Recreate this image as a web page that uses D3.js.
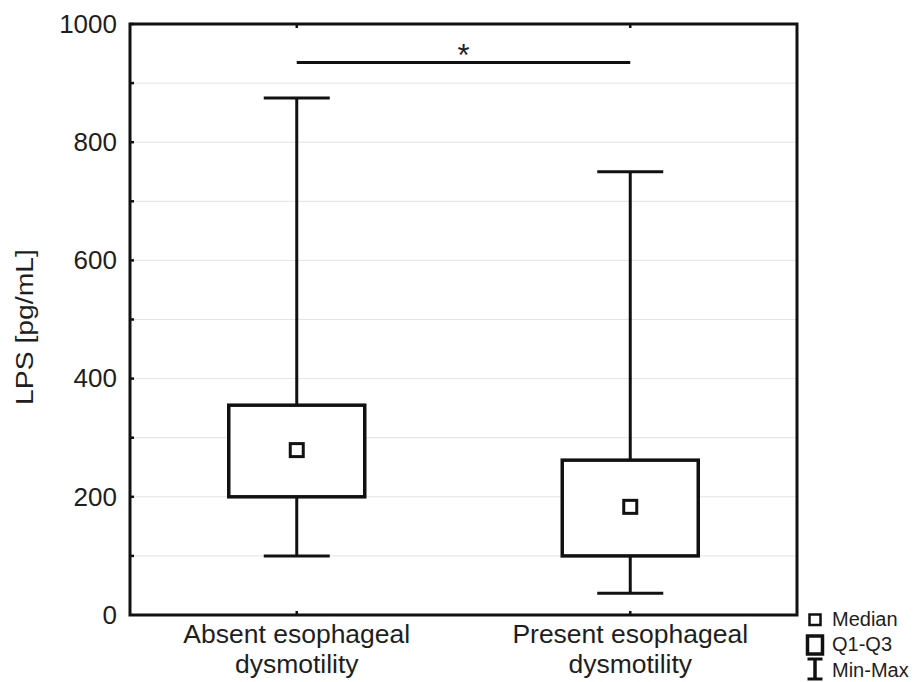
<!DOCTYPE html>
<html>
<head>
<meta charset="utf-8">
<script src="https://cdn.jsdelivr.net/npm/d3@7"></script>
<style>
  html, body { margin: 0; padding: 0; background: #fff; }
  svg text { font-family: Arial, "Liberation Sans", sans-serif; fill: #1e1e1e; }
</style>
</head>
<body>
<svg id="chart" width="918" height="682"></svg>
<script>
// Groups and their summary statistics (LPS, pg/mL)
const categories = ["Absent esophageal|dysmotility", "Present esophageal|dysmotility"];
const minValues = [100, 37];
const q1Values = [200, 100];
const medianValues = [279, 183];
const q3Values = [355, 262];
const maxValues = [875, 750];
const yTicks = [0, 200, 400, 600, 800, 1000];
const gridValues = [100, 200, 300, 400, 500, 600, 700, 800, 900];
const significanceLevel = 935;
const legendLabels = ["Median", "Q1-Q3", "Min-Max"];

const svg = d3.select("#chart");
const margin = { left: 130, right: 121, top: 24, bottom: 67 };
const W = 918, H = 682;
const innerW = W - margin.left - margin.right;
const innerH = H - margin.top - margin.bottom;
const FONT = "Arial, 'Liberation Sans', sans-serif";

const g = svg.append("g").attr("transform", `translate(${margin.left},${margin.top})`);

const y = d3.scaleLinear().domain([0, 1000]).range([innerH, 0]);
const x = d3.scaleBand().domain(categories).range([0, innerW]).paddingInner(0).paddingOuter(0);
const cx = d => x(d) + x.bandwidth() / 2;

// light horizontal grid
g.selectAll(".grid").data(gridValues).join("line")
  .attr("x1", 0).attr("x2", innerW)
  .attr("y1", d => y(d)).attr("y2", d => y(d))
  .attr("stroke", "#e3e3e3").attr("stroke-width", 1);

const boxHalf = 68, capHalf = 33, medHalf = 6.5;
const rows = categories.map((c, i) => ({
  c, min: minValues[i], q1: q1Values[i], med: medianValues[i], q3: q3Values[i], max: maxValues[i]
}));

const box = g.selectAll(".box").data(rows).join("g");
// whiskers
box.append("line").attr("x1", d => cx(d.c)).attr("x2", d => cx(d.c))
  .attr("y1", d => y(d.max)).attr("y2", d => y(d.q3))
  .attr("stroke", "#111").attr("stroke-width", 3);
box.append("line").attr("x1", d => cx(d.c)).attr("x2", d => cx(d.c))
  .attr("y1", d => y(d.q1)).attr("y2", d => y(d.min))
  .attr("stroke", "#111").attr("stroke-width", 3);
// caps
box.append("line").attr("x1", d => cx(d.c) - capHalf).attr("x2", d => cx(d.c) + capHalf)
  .attr("y1", d => y(d.max)).attr("y2", d => y(d.max))
  .attr("stroke", "#111").attr("stroke-width", 3);
box.append("line").attr("x1", d => cx(d.c) - capHalf).attr("x2", d => cx(d.c) + capHalf)
  .attr("y1", d => y(d.min)).attr("y2", d => y(d.min))
  .attr("stroke", "#111").attr("stroke-width", 3);
// Q1-Q3 box
box.append("rect")
  .attr("x", d => cx(d.c) - boxHalf).attr("width", boxHalf * 2)
  .attr("y", d => y(d.q3)).attr("height", d => y(d.q1) - y(d.q3))
  .attr("fill", "#fff").attr("stroke", "#111").attr("stroke-width", 3.5);
// median marker
box.append("rect")
  .attr("x", d => cx(d.c) - medHalf).attr("width", medHalf * 2)
  .attr("y", d => y(d.med) - medHalf).attr("height", medHalf * 2)
  .attr("fill", "#fff").attr("stroke", "#111").attr("stroke-width", 3);

// significance bar
const sigY = y(significanceLevel);
g.append("line").attr("x1", cx(categories[0])).attr("x2", cx(categories[1]))
  .attr("y1", sigY).attr("y2", sigY).attr("stroke", "#111").attr("stroke-width", 3);
g.append("text").attr("x", (cx(categories[0]) + cx(categories[1])) / 2).attr("y", sigY + 4)
  .attr("text-anchor", "middle").attr("font-size", 31).text("*");

// frame
g.append("rect").attr("x", 0).attr("y", 0).attr("width", innerW).attr("height", innerH)
  .attr("fill", "none").attr("stroke", "#111").attr("stroke-width", 3);

// y axis labels and small inner ticks
const yAxis = d3.axisLeft(y).tickValues(yTicks).tickFormat(d3.format("d")).tickSize(0).tickPadding(13);
const ya = g.append("g").call(yAxis);
ya.attr("font-size", null).attr("font-family", null);
ya.select(".domain").remove();
ya.selectAll("text").attr("font-size", 26).attr("fill", "#1e1e1e").style("font-family", FONT);
g.selectAll(".ytick").data(gridValues.concat([1000])).join("line")
  .attr("x1", 0).attr("x2", 4).attr("y1", d => y(d)).attr("y2", d => y(d))
  .attr("stroke", "#111").attr("stroke-width", 2.5);
// category ticks on top and bottom
g.selectAll(".xtick").data(categories).join("line")
  .attr("x1", d => cx(d)).attr("x2", d => cx(d)).attr("y1", innerH).attr("y2", innerH - 4)
  .attr("stroke", "#111").attr("stroke-width", 2.5);
g.selectAll(".xtickTop").data(categories).join("line")
  .attr("x1", d => cx(d)).attr("x2", d => cx(d)).attr("y1", 0).attr("y2", 4)
  .attr("stroke", "#111").attr("stroke-width", 2.5);

// category labels (two lines)
const xl = g.selectAll(".xlab").data(categories).join("text")
  .attr("text-anchor", "middle").attr("font-size", 26.5);
xl.each(function(d) {
  const parts = d.split("|");
  d3.select(this).selectAll("tspan").data(parts).join("tspan")
    .attr("x", cx(d)).attr("y", (p, i) => innerH + 28 + i * 30).text(p => p);
});

// y axis title
svg.append("text").attr("transform", "translate(33,327) rotate(-90)")
  .attr("text-anchor", "middle").attr("font-size", 23)
  .attr("textLength", 156).attr("lengthAdjust", "spacingAndGlyphs")
  .text("LPS [pg/mL]");

// legend
const lg = svg.append("g").attr("transform", "translate(815,0)");
lg.append("rect").attr("x", -5.5).attr("y", 614.5).attr("width", 11).attr("height", 10.5)
  .attr("fill", "#fff").attr("stroke", "#111").attr("stroke-width", 2.5);
lg.append("rect").attr("x", -7.5).attr("y", 636).attr("width", 15).attr("height", 18)
  .attr("fill", "#fff").attr("stroke", "#111").attr("stroke-width", 3.5);
lg.append("line").attr("x1", 0).attr("x2", 0).attr("y1", 659).attr("y2", 679)
  .attr("stroke", "#111").attr("stroke-width", 3.5);
lg.append("line").attr("x1", -7.5).attr("x2", 7.5).attr("y1", 659).attr("y2", 659)
  .attr("stroke", "#111").attr("stroke-width", 3);
lg.append("line").attr("x1", -7.5).attr("x2", 7.5).attr("y1", 679).attr("y2", 679)
  .attr("stroke", "#111").attr("stroke-width", 3);
lg.selectAll(".ltxt").data(legendLabels).join("text")
  .attr("x", 17).attr("y", (d, i) => [626, 651, 677][i]).attr("font-size", 20).text(d => d);
</script>
</body>
</html>
